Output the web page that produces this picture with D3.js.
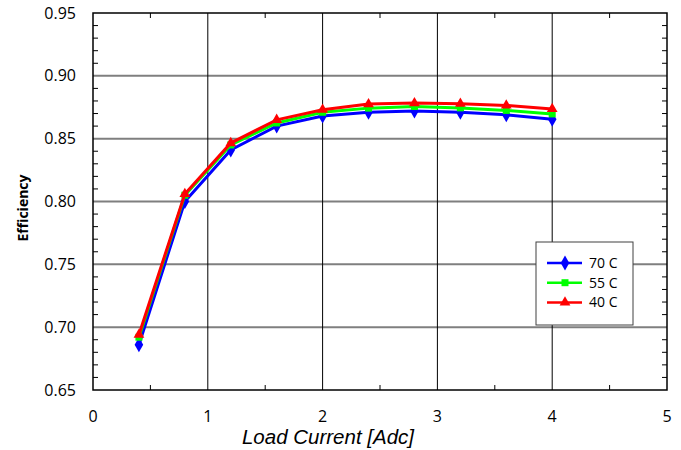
<!DOCTYPE html>
<html>
<head>
<meta charset="utf-8">
<script src="https://cdn.jsdelivr.net/npm/d3@7"></script>
<style>
  body { margin: 0; background: #fff; }
  svg { display: block; }
</style>
</head>
<body>
<svg id="chart" width="681" height="450"></svg>
<script>
// Load current in Adc
const loadCurrent = [0.4, 0.8, 1.2, 1.6, 2.0, 2.4, 2.8, 3.2, 3.6, 4.0];
// Efficiency per ambient temperature
const eff70 = [0.686, 0.800, 0.841, 0.860, 0.868, 0.871, 0.872, 0.871, 0.869, 0.8655];
const eff55 = [0.692, 0.805, 0.845, 0.8625, 0.871, 0.8743, 0.8756, 0.8745, 0.8725, 0.8697];
const eff40 = [0.694, 0.806, 0.8465, 0.865, 0.873, 0.8775, 0.8783, 0.8778, 0.8764, 0.8737];
const seriesNames = ['70 C', '55 C', '40 C'];
const xTicks = [0, 1, 2, 3, 4, 5];
const yTicks = [0.65, 0.70, 0.75, 0.80, 0.85, 0.90, 0.95];

const svg = d3.select('#chart');
const plotLeft = 93, plotRight = 667, plotTop = 13, plotBottom = 390;

const x = d3.scaleLinear().domain([0, 5]).range([plotLeft, plotRight]);
const y = d3.scaleLinear().domain([0.65, 0.95]).range([plotBottom, plotTop]);

// horizontal grid (gray)
svg.append('g')
    .selectAll('line')
    .data(yTicks.slice(1, -1))
    .enter()
    .append('line')
    .attr('x1', plotLeft).attr('x2', plotRight)
    .attr('y1', d => y(d)).attr('y2', d => y(d))
    .attr('stroke', '#7f7f7f')
    .attr('stroke-width', 2);

// vertical grid (black)
svg.append('g')
    .selectAll('line')
    .data(xTicks.slice(1, -1))
    .enter()
    .append('line')
    .attr('x1', d => x(d)).attr('x2', d => x(d))
    .attr('y1', plotTop).attr('y2', plotBottom)
    .attr('stroke', '#000')
    .attr('stroke-width', 1);

// minor ticks, inside, on all four sides
const yMinor = d3.range(66, 95).map(v => v / 100).filter(v => Math.round(v * 100) % 5 !== 0);
const xMinor = [0.5, 1.5, 2.5, 3.5, 4.5];
const ticks = svg.append('g').attr('stroke', '#000').attr('stroke-width', 1);
yMinor.forEach(v => {
    ticks.append('line').attr('x1', plotLeft).attr('x2', plotLeft + 5).attr('y1', y(v)).attr('y2', y(v));
    ticks.append('line').attr('x1', plotRight - 5).attr('x2', plotRight).attr('y1', y(v)).attr('y2', y(v));
});
xMinor.forEach(v => {
    ticks.append('line').attr('x1', x(v)).attr('x2', x(v)).attr('y1', plotBottom - 5).attr('y2', plotBottom);
    ticks.append('line').attr('x1', x(v)).attr('x2', x(v)).attr('y1', plotTop).attr('y2', plotTop + 5);
});

// frame
svg.append('rect')
    .attr('x', plotLeft).attr('y', plotTop)
    .attr('width', plotRight - plotLeft).attr('height', plotBottom - plotTop)
    .attr('fill', 'none')
    .attr('stroke', '#000')
    .attr('stroke-width', 1.5);

// axis labels
svg.append('g')
    .selectAll('text')
    .data(yTicks)
    .enter()
    .append('text')
    .attr('x', 76)
    .attr('y', d => y(d) + 5.5)
    .attr('text-anchor', 'end')
    .style('font-family', 'Open Sans, sans-serif')
    .style('font-size', '16px')
    .text(d => d.toFixed(2));

svg.append('g')
    .selectAll('text')
    .data(xTicks)
    .enter()
    .append('text')
    .attr('x', d => x(d))
    .attr('y', 422)
    .attr('text-anchor', 'middle')
    .style('font-family', 'Open Sans, sans-serif')
    .style('font-size', '16px')
    .text(d => d);

svg.append('text')
    .attr('transform', 'translate(28, 208) rotate(-90)')
    .attr('text-anchor', 'middle')
    .style('font-family', 'Open Sans, sans-serif')
    .style('font-size', '14px')
    .style('font-weight', 'bold')
    .text('Efficiency');

svg.append('text')
    .attr('x', 328)
    .attr('y', 444)
    .attr('text-anchor', 'middle')
    .style('font-family', 'Liberation Sans, Arial, sans-serif')
    .style('font-size', '20.5px')
    .style('font-style', 'italic')
    .text('Load Current [Adc]');

// series
const series = [
    { name: seriesNames[0], values: eff70, color: '#0000ff', symbol: d3.symbolDiamond, size: 64 },
    { name: seriesNames[1], values: eff55, color: '#00ff00', symbol: d3.symbolSquare, size: 49 },
    { name: seriesNames[2], values: eff40, color: '#ff0000', symbol: d3.symbolTriangle, size: 50 }
];

const line = d3.line()
    .x((d, i) => x(loadCurrent[i]))
    .y(d => y(d));

series.forEach(s => {
    const g = svg.append('g');
    g.append('path')
        .attr('d', line(s.values))
        .attr('fill', 'none')
        .attr('stroke', s.color)
        .attr('stroke-width', 3);
    g.selectAll('path.pt')
        .data(s.values)
        .enter()
        .append('path')
        .attr('class', 'pt')
        .attr('d', d3.symbol().type(s.symbol).size(s.size))
        .attr('transform', (d, i) => `translate(${x(loadCurrent[i])},${y(d)})`)
        .attr('fill', s.color);
});

// legend
const legend = svg.append('g').attr('transform', 'translate(536, 242)');
legend.append('rect')
    .attr('width', 97).attr('height', 83)
    .attr('fill', '#fff')
    .attr('stroke', '#404040')
    .attr('stroke-width', 1);
series.forEach((s, i) => {
    const ly = 21 + i * 19.7;
    legend.append('line')
        .attr('x1', 11).attr('x2', 46)
        .attr('y1', ly).attr('y2', ly)
        .attr('stroke', s.color)
        .attr('stroke-width', 2.5);
    legend.append('path')
        .attr('d', d3.symbol().type(s.symbol).size(s.size))
        .attr('transform', `translate(29,${ly})`)
        .attr('fill', s.color);
    legend.append('text')
        .attr('x', 53)
        .attr('y', ly + 5)
        .style('font-family', 'Open Sans, sans-serif')
        .style('font-size', '14px')
        .text(s.name);
});
</script>
</body>
</html>
